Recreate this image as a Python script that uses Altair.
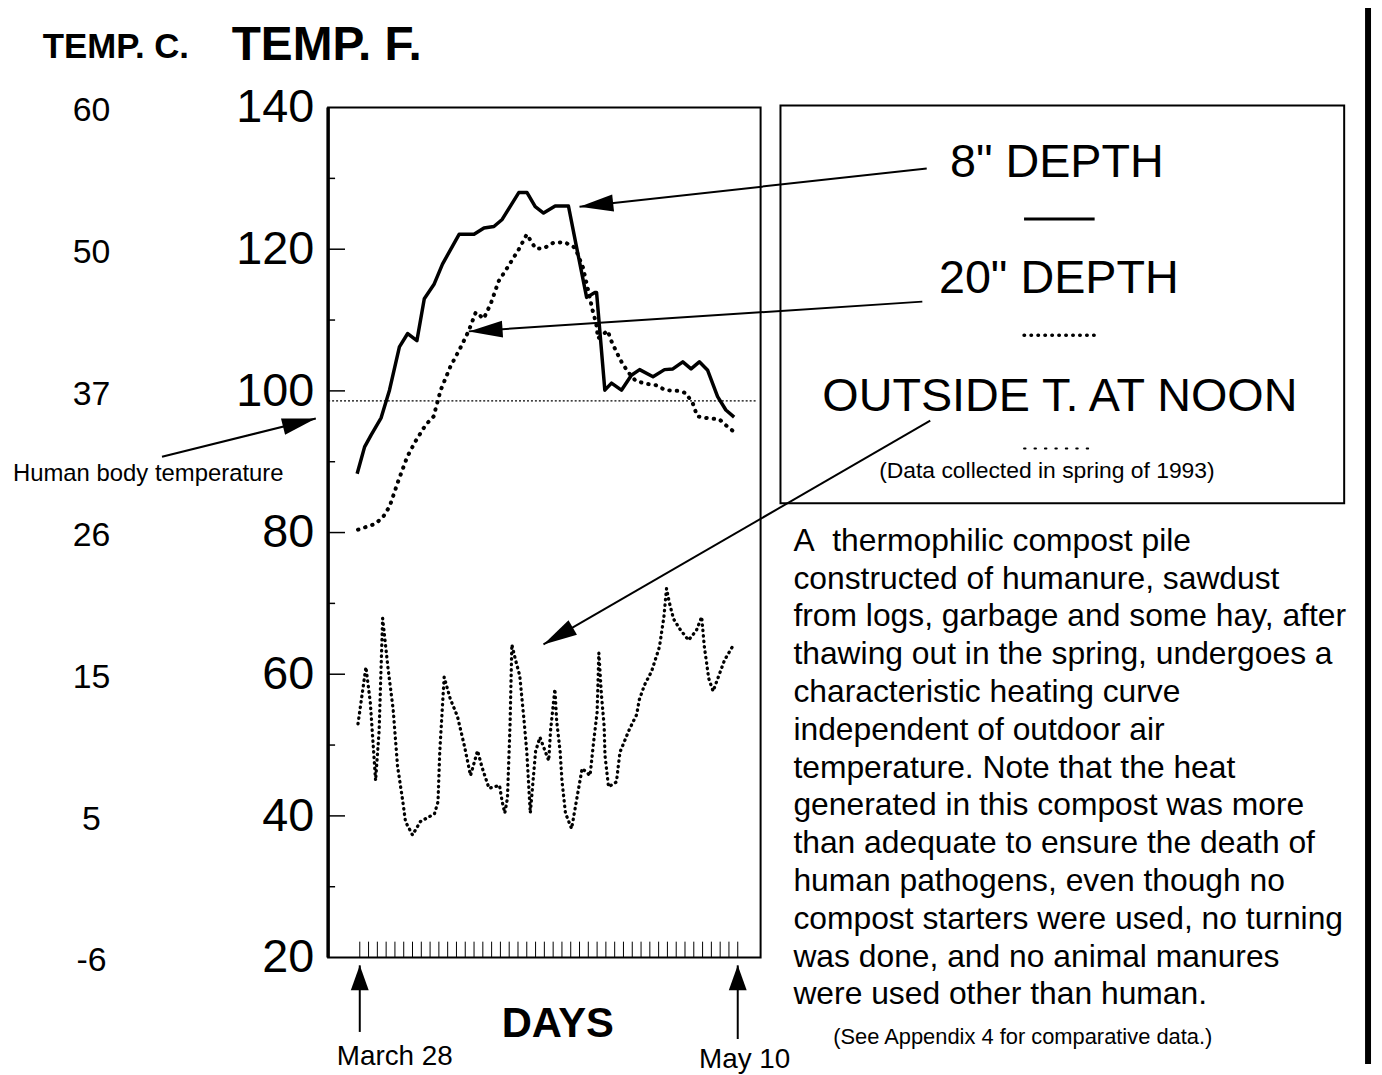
import math
import altair as alt
import pandas as pd

# ---------------- data ----------------
# 8" depth (solid line): day after March 28, temperature in deg F
depth8_day = [-0.3, 0.55, 1.3, 2.43, 3.38, 4.51, 5.45, 6.5, 7.34, 8.47, 9.41, 11.3, 13.0,
              14.13, 15.26, 16.2, 18.09, 19.03, 19.96, 20.91, 22.23, 23.74, 24.68, 25.81,
              26.75, 26.94, 27.88, 28.64, 29.77, 30.9, 31.84, 33.36, 34.67, 35.62, 36.75,
              37.69, 38.63, 39.58, 40.71, 41.65, 42.59]
depth8_temp = [88.3, 92.1, 93.8, 96.2, 100.1, 106.2, 108.1, 107.1, 113.0, 115.1, 117.9, 122.1, 122.1,
               123.0, 123.2, 124.2, 128.0, 128.0, 126.0, 125.1, 126.1, 126.1, 120.2, 113.2,
               113.9, 113.9, 100.1, 101.1, 100.1, 102.2, 103.0, 102.0, 103.0, 103.1, 104.1,
               103.1, 104.1, 102.9, 99.2, 97.3, 96.3]

# 20" depth (dotted line)
depth20_day = [-0.2, 1.7, 2.6, 3.4, 4.3, 5.4, 6.3, 7.5, 8.4, 9.2, 10.3, 11.5, 12.4, 13.2, 14.1,
               14.9, 15.8, 16.9, 18.1, 19.0, 20.0, 20.9, 22.0, 23.3, 24.5, 25.4, 26.0, 26.5,
               26.9, 27.1, 28.2, 28.6, 29.2, 29.9, 30.7, 31.4, 32.6, 33.7, 34.8, 36.2, 37.1,
               37.9, 38.4, 39.8, 40.9, 41.6, 42.5]
depth20_temp = [80.4, 81.2, 82.1, 83.7, 87.0, 90.7, 92.8, 95.2, 96.4, 100.1, 103.4, 106.2, 108.5,
                111.1, 110.2, 112.3, 115.5, 117.6, 120.0, 122.1, 120.1, 120.1, 120.9, 121.0,
                120.2, 117.4, 114.1, 111.3, 109.5, 107.4, 108.5, 107.1, 105.5, 103.8, 102.4,
                101.4, 101.0, 100.8, 100.1, 100.0, 99.7, 98.2, 96.4, 96.1, 96.0, 95.2, 94.3]

# outside temperature at noon (fine dotted line)
outside_day = [-0.2, 0.7, 1.2, 1.8, 2.2, 2.6, 3.2, 3.8, 4.3, 4.9, 5.2, 6.0, 6.9, 8.5, 8.9, 9.1,
               9.4, 9.6, 10.3, 11.1, 11.9, 12.6, 13.4, 13.9, 14.7, 15.9, 16.2, 16.5, 16.8, 17.1,
               17.3, 17.7, 18.2, 18.7, 19.0, 19.4, 20.0, 20.5, 21.1, 21.5, 21.7, 22.2, 22.4,
               22.8, 23.0, 23.4, 24.1, 24.7, 25.3, 26.2, 26.6, 27.0, 27.2, 27.5, 27.8, 27.9,
               28.3, 29.2, 29.6, 30.7, 31.5, 31.8, 32.4, 33.2, 34.1, 34.6, 34.9, 35.2, 35.7,
               36.4, 37.4, 38.3, 38.9, 39.2, 39.7, 40.2, 41.5, 42.5]
outside_temp = [53.0, 61.0, 56.0, 45.0, 52.0, 67.9, 61.0, 55.0, 47.0, 42.0, 39.2, 37.3, 39.2,
                40.3, 42.0, 49.1, 55.4, 59.6, 56.5, 54.1, 49.9, 45.7, 49.2, 46.9, 43.9, 44.3,
                42.0, 40.4, 42.5, 53.0, 64.2, 62.1, 59.8, 53.3, 49.1, 40.4, 49.1, 51.1, 49.1,
                47.8, 52.0, 57.9, 53.4, 49.0, 45.0, 40.4, 38.2, 42.5, 46.7, 45.7, 50.4, 54.6,
                63.0, 57.0, 52.7, 48.5, 44.1, 44.8, 49.0, 52.3, 54.3, 56.4, 58.5, 60.4, 63.9,
                68.1, 72.1, 70.2, 67.8, 66.4, 64.8, 66.2, 68.1, 63.9, 59.4, 57.6, 62.0, 64.1]

f_ticks = [20, 40, 60, 80, 100, 120, 140]
f_labels = ["20", "40", "60", "80", "100", "120", "140"]
c_labels = ["-6", "5", "15", "26", "37", "50", "60"]
major_ticks = [40, 60, 80, 100, 120]
minor_ticks = [30, 50, 70, 90, 110, 130]
day_ticks = list(range(0, 44))
body_temp = 98.6

# annotation arrows (tail -> tip), in days / deg F
arrow_name = ["8in", "20in", "outside", "body"]
arrow_tail_day = [64.5, 64.0, 64.9, -22.5]
arrow_tail_temp = [131.4, 112.6, 95.8, 90.7]
arrow_tip_day = [25.0, 12.4, 20.9, -5.0]
arrow_tip_temp = [126.0, 108.4, 64.2, 96.1]
date_arrow_day = [0.0, 43.0]
date_arrow_tail_temp = [9.5, 8.5]
date_arrow_tip_temp = [18.9, 18.9]

paragraph = ("A\u00a0 thermophilic compost pile\n"
             "constructed of humanure, sawdust\n"
             "from logs, garbage and some hay, after\n"
             "thawing out in the spring, undergoes a\n"
             "characteristic heating curve\n"
             "independent of outdoor air\n"
             "temperature. Note that the heat\n"
             "generated in this compost was more\n"
             "than adequate to ensure the death of\n"
             "human pathogens, even though no\n"
             "compost starters were used, no turning\n"
             "was done, and no animal manures\n"
             "were used other than human.")

# ---------------- layout ----------------
W, H = 435, 855
XDOM = [-3.6, 45.6]
YDOM = [20, 140]
FONT = "Liberation Sans"
xs = alt.Scale(domain=XDOM, nice=False, zero=False)
ys = alt.Scale(domain=YDOM, nice=False, zero=False)
PXD = W / (XDOM[1] - XDOM[0])
PYD = H / (YDOM[1] - YDOM[0])


def angle(d0, t0, d1, t1):
    dx = (d1 - d0) * PXD
    dy = -(t1 - t0) * PYD
    return math.degrees(math.atan2(dx, -dy)) % 360


def sdf(days, temps):
    return pd.DataFrame({"day": days, "temp": temps, "i": list(range(len(days)))})


X = lambda f: alt.X(f, scale=xs, axis=None)
Y = lambda f: alt.Y(f, scale=ys, axis=None)

line8 = alt.Chart(sdf(depth8_day, depth8_temp)).mark_line(
    color="black", strokeWidth=3.5, strokeJoin="round").encode(
    x=X("day:Q"), y=Y("temp:Q"), order="i:Q")

line20 = alt.Chart(sdf(depth20_day, depth20_temp)).mark_line(
    color="black", strokeWidth=4, strokeDash=[0.5, 7], strokeCap="round").encode(
    x=X("day:Q"), y=Y("temp:Q"), order="i:Q")

outside = alt.Chart(sdf(outside_day, outside_temp)).mark_line(
    color="black", strokeWidth=3.3, strokeDash=[0.5, 5], strokeCap="round").encode(
    x=X("day:Q"), y=Y("temp:Q"), order="i:Q")

body = alt.Chart(pd.DataFrame({"temp": [body_temp]})).mark_rule(
    color="black", strokeWidth=1.2, strokeDash=[2, 2]).encode(
    y=Y("temp:Q"), x=alt.value(0), x2=alt.value(432))

tick_major = alt.Chart(pd.DataFrame({"temp": major_ticks})).mark_rule(
    color="black", strokeWidth=1.5).encode(y=Y("temp:Q"), x=alt.value(0), x2=alt.value(17))
tick_minor = alt.Chart(pd.DataFrame({"temp": minor_ticks})).mark_rule(
    color="black", strokeWidth=1.5).encode(y=Y("temp:Q"), x=alt.value(0), x2=alt.value(7))
tick_days = alt.Chart(pd.DataFrame({"day": day_ticks})).mark_rule(
    color="black", strokeWidth=1).encode(x=X("day:Q"), y=alt.value(H), y2=alt.value(H - 16))

one = pd.DataFrame({"k": [0]})
left_border = alt.Chart(one).mark_rule(color="black", strokeWidth=3.5).encode(
    x=alt.value(0), y=alt.value(0), y2=alt.value(H))

f_axis = alt.Chart(pd.DataFrame({"temp": f_ticks, "f": f_labels})).mark_text(
    font=FONT, fontSize=47, align="right", baseline="middle", dy=1, color="black").encode(
    y=Y("temp:Q"), x=alt.value(-14), text="f:N")

c_axis = alt.Chart(pd.DataFrame({"temp": f_ticks, "c": c_labels})).mark_text(
    font=FONT, fontSize=34, align="center", baseline="middle", dy=4, color="black").encode(
    y=Y("temp:Q"), x=alt.value(-238), text="c:N")


def label(text, x, y, size, weight="normal", align="left"):
    return alt.Chart(one).mark_text(text=text, font=FONT, fontSize=size, fontWeight=weight,
                                    align=align, baseline="alphabetic", color="black").encode(
        x=alt.value(x), y=alt.value(y))


def seg(x0, x1, y, **kw):
    return alt.Chart(one).mark_rule(color="black", **kw).encode(
        x=alt.value(x0), x2=alt.value(x1), y=alt.value(y))


texts = [
    label("TEMP. C.", -287, -50, 35, "bold"),
    label("TEMP. F.", -97, -48, 48, "bold"),
    label('8" DEPTH', 733, 70, 47, align="center"),
    label('20" DEPTH', 735, 187, 47, align="center"),
    label("OUTSIDE T. AT NOON", 736, 305, 47, align="center"),
    label("(Data collected in spring of 1993)", 723, 373, 23, align="center"),
    label("(See Appendix 4 for comparative data.)", 508, 942, 22),
    label("Human body temperature", -317, 376, 24),
    label("DAYS", 231, 935, 42, "bold", align="center"),
    label("March 28", 67, 963, 28, align="center"),
    label("May 10", 419, 966, 28, align="center"),
]

para = alt.Chart(one).mark_text(text=paragraph, lineBreak="\n", lineHeight=38, font=FONT,
                                fontSize=32, align="left", baseline="alphabetic",
                                color="black").encode(x=alt.value(468), y=alt.value(446))

box = alt.Chart(one).mark_rect(fillOpacity=0, stroke="black", strokeWidth=2).encode(
    x=alt.value(455), x2=alt.value(1022), y=alt.value(-2), y2=alt.value(398))

samples = [
    seg(700, 771, 112, strokeWidth=3),
    seg(700, 771, 229, strokeWidth=3.5, strokeDash=[0.5, 6.5], strokeCap="round"),
    seg(700, 771, 343, strokeWidth=2, strokeDash=[1.5, 9], strokeCap="round"),
]

right_bar = alt.Chart(one).mark_rule(color="black", strokeWidth=6).encode(
    x=alt.value(1046), y=alt.value(-105), y2=alt.value(962))

# arrows
arr = pd.DataFrame({"name": arrow_name, "d0": arrow_tail_day, "t0": arrow_tail_temp,
                    "d1": arrow_tip_day, "t1": arrow_tip_temp})
arr["ang"] = [angle(a, b, c, d) for a, b, c, d in zip(arr.d0, arr.t0, arr.d1, arr.t1)]
arrow_lines = alt.Chart(arr).mark_rule(color="black", strokeWidth=2).encode(
    x=X("d0:Q"), y=Y("t0:Q"), x2="d1:Q", y2="t1:Q")
arrow_heads = alt.Chart(arr).mark_point(
    shape="M0,0L-0.5,2L0.5,2Z", filled=True, size=1156, opacity=1, color="black",
    strokeWidth=0).encode(x=X("d1:Q"), y=Y("t1:Q"), angle=alt.Angle("ang:Q", scale=None))

darr = pd.DataFrame({"d": date_arrow_day, "t0": date_arrow_tail_temp,
                     "t1": date_arrow_tip_temp})
date_lines = alt.Chart(darr).mark_rule(color="black", strokeWidth=2).encode(
    x=X("d:Q"), y=Y("t0:Q"), y2="t1:Q")
date_heads = alt.Chart(darr).mark_point(
    shape="M0,0L-0.72,2L0.72,2Z", filled=True, size=625, opacity=1, color="black",
    strokeWidth=0).encode(x=X("d:Q"), y=Y("t1:Q"))

chart = alt.layer(
    line8, line20, outside, body, tick_major, tick_minor, tick_days, left_border, f_axis,
    c_axis, box, *samples, *texts, para, right_bar, arrow_lines, arrow_heads, date_lines,
    date_heads
).properties(
    width=W, height=H,
    padding={"left": 322, "top": 97, "right": 617, "bottom": 115},
    autosize=alt.AutoSizeParams(type="none"),
).configure_view(stroke="black", strokeWidth=2)

chart.save("out.html", embed_options={"renderer": "svg", "actions": False})
